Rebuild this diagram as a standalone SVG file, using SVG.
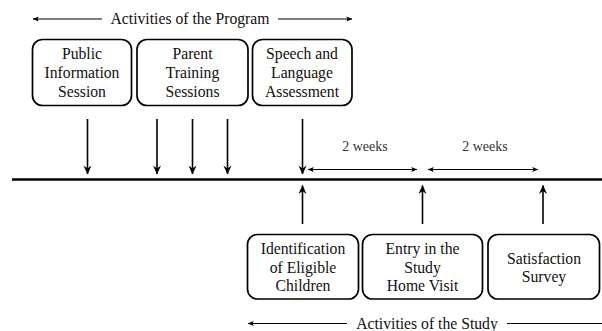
<svg xmlns="http://www.w3.org/2000/svg" width="602" height="331" viewBox="0 0 602 331" font-family="'Liberation Serif', 'DejaVu Serif', serif">
<defs>
<marker id="ah" viewBox="0 0 10 10" refX="9.5" refY="5" markerWidth="9" markerHeight="9" markerUnits="userSpaceOnUse" orient="auto-start-reverse">
<path d="M0,0.5 L10,5 L0,9.5 L3.5,5 z" fill="#000"/>
</marker>
<marker id="sh" viewBox="0 0 10 10" refX="9.5" refY="5" markerWidth="7" markerHeight="6" markerUnits="userSpaceOnUse" orient="auto-start-reverse">
<path d="M0,1 L10,5 L0,9 L2,5 z" fill="#000"/>
</marker>
</defs>
<style>
text{font-family:'Liberation Serif','DejaVu Serif',serif;font-size:15.7px;fill:#111;text-anchor:middle}
.small{font-size:14px;fill:#333}
.box{fill:#fff;stroke:#000;stroke-width:1.7}
.ar{stroke:#000;stroke-width:1.6;fill:none;marker-end:url(#ah)}
.hd{stroke:#000;stroke-width:1.2;fill:none}
.dbl{stroke:#000;stroke-width:1.2;fill:none;marker-start:url(#sh);marker-end:url(#sh)}
</style>
<rect width="602" height="331" fill="#fff"/>

<g id="program-header">
<line class="hd" x1="102" y1="19" x2="33" y2="19" marker-end="url(#sh)"/>
<text x="190" y="24">Activities of the Program</text>
<line class="hd" x1="278" y1="19" x2="352" y2="19" marker-end="url(#sh)"/>
</g>

<g id="public-info">
<rect class="box" x="32.5" y="39.5" width="99" height="66" rx="10"/>
<text x="82" y="58.5">Public</text>
<text x="82" y="77.5">Information</text>
<text x="82" y="96.5">Session</text>
</g>
<g id="parent-training">
<rect class="box" x="137" y="39.5" width="111" height="66" rx="10"/>
<text x="192.5" y="58.5">Parent</text>
<text x="192.5" y="77.5">Training</text>
<text x="192.5" y="96.5">Sessions</text>
</g>
<g id="speech-assessment">
<rect class="box" x="252.5" y="39.5" width="99.5" height="66" rx="10"/>
<text x="302" y="58.5">Speech and</text>
<text x="302" y="77.5">Language</text>
<text x="302" y="96.5">Assessment</text>
</g>

<g id="timeline">
<line x1="12" y1="179.5" x2="602" y2="179.5" stroke="#000" stroke-width="2.3"/>
</g>

<g id="connectors">
<line class="ar" x1="87.5" y1="119" x2="87.5" y2="174"/>
<line class="ar" x1="157" y1="119" x2="157" y2="174"/>
<line class="ar" x1="192.5" y1="119" x2="192.5" y2="174"/>
<line class="ar" x1="227.5" y1="119" x2="227.5" y2="174"/>
<line class="ar" x1="302.5" y1="119" x2="302.5" y2="174"/>
<line class="ar" x1="302.5" y1="224" x2="302.5" y2="185.5"/>
<line class="ar" x1="422.5" y1="224" x2="422.5" y2="185.5"/>
<line class="ar" x1="543" y1="224" x2="543" y2="185.5"/>
<line class="dbl" x1="308" y1="169.5" x2="417" y2="169.5"/>
<line class="dbl" x1="428" y1="169.5" x2="538" y2="169.5"/>
</g>

<g id="interval-labels">
<text class="small" x="365" y="150.5">2 weeks</text>
<text class="small" x="485" y="150.5">2 weeks</text>
</g>

<g id="identification">
<rect class="box" x="247.5" y="234.5" width="111" height="64.5" rx="10"/>
<text x="303" y="254">Identification</text>
<text x="303" y="272.5">of Eligible</text>
<text x="303" y="291">Children</text>
</g>
<g id="entry-home-visit">
<rect class="box" x="362.5" y="234.5" width="120" height="64.5" rx="10"/>
<text x="422.5" y="254">Entry in the</text>
<text x="422.5" y="272.5">Study</text>
<text x="422.5" y="291">Home Visit</text>
</g>
<g id="satisfaction-survey">
<rect class="box" x="488" y="234.5" width="111.5" height="64.5" rx="10"/>
<text x="544" y="263.5">Satisfaction</text>
<text x="544" y="282">Survey</text>
</g>

<g id="study-header">
<line class="hd" x1="347" y1="323.5" x2="248" y2="323.5" marker-end="url(#sh)"/>
<text x="427" y="328.5">Activities of the Study</text>
<line class="hd" x1="507" y1="323.5" x2="602" y2="323.5"/>
</g>
</svg>
